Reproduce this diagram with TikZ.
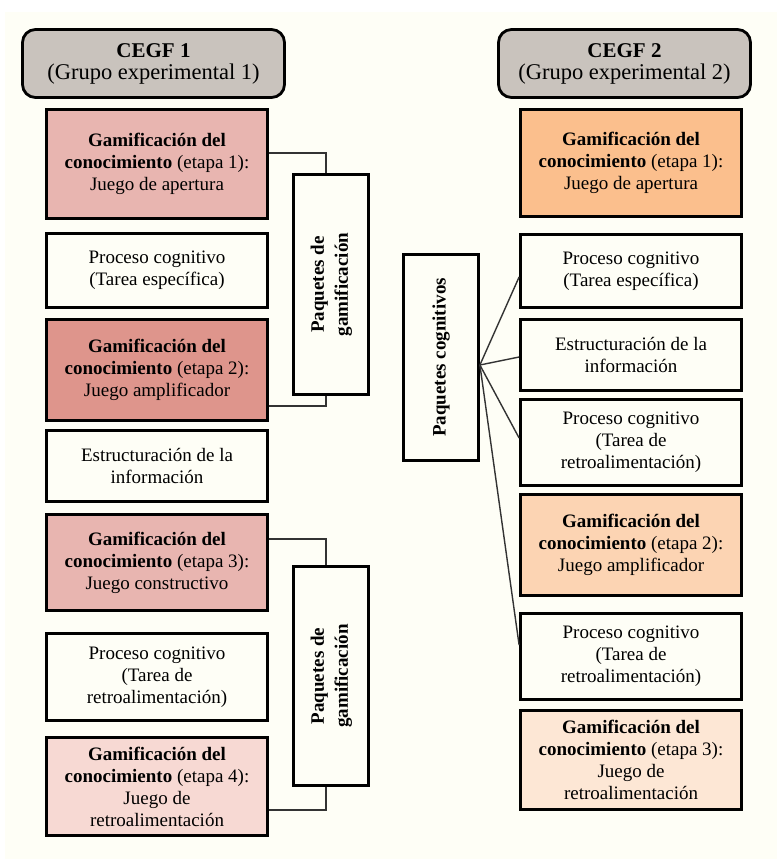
\documentclass[tikz,border=0pt]{standalone}
\usepackage{fontspec}
\setmainfont{Liberation Serif}
\usepackage{graphicx}
\usepackage{xcolor}
\usepackage{tikz}
\usetikzlibrary{calc,positioning}

\definecolor{ivory}{RGB}{254,254,246}
\definecolor{headgray}{RGB}{201,195,189}
\definecolor{pinkA}{RGB}{232,181,176}
\definecolor{pinkB}{RGB}{222,149,140}
\definecolor{pinkC}{RGB}{247,217,211}
\definecolor{orangeA}{RGB}{251,191,141}
\definecolor{orangeB}{RGB}{252,212,179}
\definecolor{orangeC}{RGB}{253,231,213}

\begin{document}
\begin{tikzpicture}[x=1pt, y=-1pt]
			\tikzstyle{every node}=[font=\fontsize{19}{22}\selectfont]
			\tikzstyle{head}=[draw, line width=2.8pt, rounded corners=13pt, fill=headgray, align=center, minimum height=68pt, font=\fontsize{21}{22}\selectfont]
			\tikzstyle{stage}=[draw, line width=2.8pt, fill=ivory, align=center, minimum width=221pt, inner sep=2pt]
			\tikzstyle{pack}=[draw, line width=2.8pt, fill=ivory, minimum width=75pt, inner sep=0pt, font=\fontsize{19}{24}\selectfont\bfseries]
			\tikzstyle{link}=[line width=1.4pt, draw=black!80]
			
			% background
			\fill[white] (0,0) rectangle (777,859);
			\fill[ivory] (5,12) rectangle (777,859);
			
			% CEGF 1
			\node[head, minimum width=262pt] (H1) at (153.5,63.5) {\textbf{CEGF 1}\\{\fontsize{22.5}{22}\selectfont (Grupo experimental 1)}};
			
			\node[stage, fill=pinkA, minimum height=109pt] (L1) at (157,164) {\textbf{Gamificación del}\\\textbf{conocimiento} (etapa 1):\\Juego de apertura};
			\node[stage, minimum height=74pt]              (L2) at (157,270.5) {Proceso cognitivo\\(Tarea específica)};
			\node[stage, fill=pinkB, minimum height=101pt] (L3) at (157,370) {\textbf{Gamificación del}\\\textbf{conocimiento} (etapa 2):\\Juego amplificador};
			\node[stage, minimum height=71pt]              (L4) at (157,466) {Estructuración de la\\información};
			\node[stage, fill=pinkA, minimum height=96pt]  (L5) at (157,562.5) {\textbf{Gamificación del}\\\textbf{conocimiento} (etapa 3):\\Juego constructivo};
			\node[stage, minimum height=87pt]              (L6) at (157,677) {Proceso cognitivo\\(Tarea de\\retroalimentación)};
			\node[stage, fill=pinkC, minimum height=98pt]  (L7) at (157,786.5) {\textbf{Gamificación del}\\\textbf{conocimiento} (etapa 4):\\Juego de\\retroalimentación};
			
			\node[pack, minimum height=220pt] (P1) at (331,284.5) {\rotatebox{90}{\begin{tabular}{@{}c@{}}Paquetes de\\gamificación\end{tabular}}};
			\node[pack, minimum height=219pt] (P2) at (331,676) {\rotatebox{90}{\begin{tabular}{@{}c@{}}Paquetes de\\gamificación\end{tabular}}};
			
			% CEGF 2
			\node[head, minimum width=252pt] (H2) at (624.5,63.5) {\textbf{CEGF 2}\\{\fontsize{22.5}{22}\selectfont (Grupo experimental 2)}};
			
			\node[stage, fill=orangeA, minimum height=107pt] (R1) at (631,163) {\textbf{Gamificación del}\\\textbf{conocimiento} (etapa 1):\\Juego de apertura};
			\node[stage, minimum height=73pt]                (R2) at (631,271) {Proceso cognitivo\\(Tarea específica)};
			\node[stage, minimum height=71pt]                (R3) at (631,355) {Estructuración de la\\información};
			\node[stage, minimum height=86pt]                (R4) at (631,442.5) {Proceso cognitivo\\(Tarea de\\retroalimentación)};
			\node[stage, fill=orangeB, minimum height=101pt] (R5) at (631,545) {\textbf{Gamificación del}\\\textbf{conocimiento} (etapa 2):\\Juego amplificador};
			\node[stage, minimum height=86pt]                (R6) at (631,656.5) {Proceso cognitivo\\(Tarea de\\retroalimentación)};
			\node[stage, fill=orangeC, minimum height=99pt]  (R7) at (631,760) {\textbf{Gamificación del}\\\textbf{conocimiento} (etapa 3):\\Juego de\\retroalimentación};
			
			\node[pack, minimum height=206pt] (PC) at (441,357.5) {\rotatebox{90}{Paquetes cognitivos}};
			\coordinate (hub) at ([yshift=-7.5pt]PC.east);
			
			% connectors
			\draw[link] ([yshift=11pt]L1.east) -| ([xshift=-5pt]P1.north);
			\draw[link] ([xshift=-5pt]P1.south) |- ([yshift=-36pt]L3.east);
			\draw[link] ([yshift=23.5pt]L5.east) -| ([xshift=-5pt]P2.north);
			\draw[link] ([xshift=-5pt]P2.south) |- ([yshift=-23.5pt]L7.east);
			
			\path[link]
			(hub) edge ([yshift=-6pt]R2.west)
			(hub) edge ([yshift=-2pt]R3.west)
			(hub) edge ([yshift=4.5pt]R4.west)
			(hub) edge ([yshift=11.5pt]R6.west)
			;
\end{tikzpicture}
\end{document}
